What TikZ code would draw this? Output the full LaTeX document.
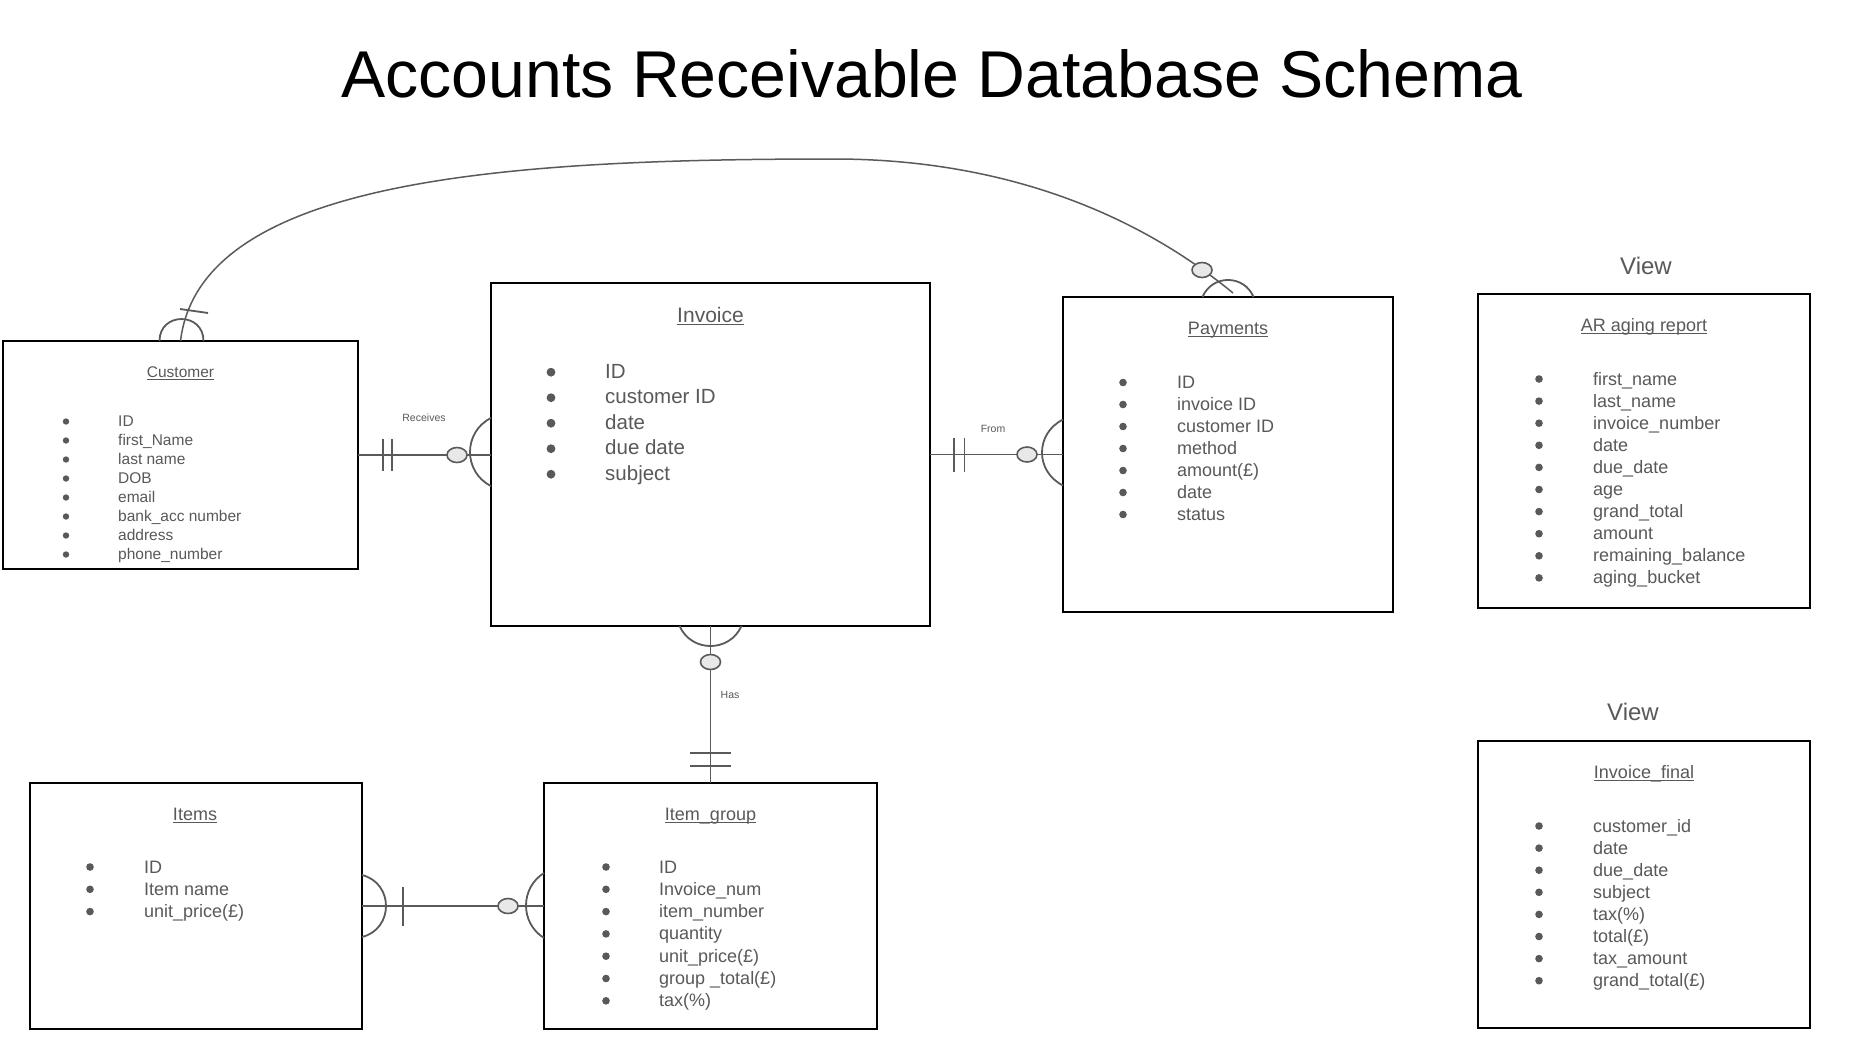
\documentclass[tikz,border=0pt]{standalone}
\usepackage{fontspec}
\setmainfont{Liberation Sans}
\usetikzlibrary{calc,shapes.geometric}
\definecolor{txt}{HTML}{595959}
\definecolor{ln}{HTML}{5A5A5A}
\definecolor{ofill}{HTML}{E8E8E8}
\newcommand\ulx[1]{\setbox0\hbox{#1}\rlap{\rule[-2.8pt]{\wd0}{1.1pt}}\box0}
% #1 prefix, #2 bullet x, #3 first baseline, #4 spacing, #5 font size,
% #6 bullet radius, #7 bullet raise, #8 text offset, #9 list
\newcommand\fieldlist[9]{%
  \foreach \fld [count=\i from 0] in {#9} {
    \fill[txt] (#2, #3+\i*#4-#7) circle[radius=#6pt];
    \node[anchor=base west, inner sep=0pt, text=txt, font=\fontsize{#5}{#5}\selectfont] (#1\i) at (#2+#8, #3+\i*#4) {\fld};
  }%
}
\begin{document}
\begin{tikzpicture}[x=1pt,y=-1pt,
  tbl/.style={draw=black, line width=2.4pt, rectangle, inner sep=0pt, outer sep=0pt, fill=white},
  conn/.style={draw=ln, line width=1.8pt},
  crow/.style={draw=ln, line width=1.8pt},
  opt/.style={ellipse, draw=ln, line width=1.6pt, fill=ofill, minimum width=20pt, minimum height=15pt, inner sep=0pt},
  lbl/.style={font=\fontsize{10.5}{12}\selectfont, text=txt, inner sep=0pt},
  ttl/.style={anchor=base, inner sep=0pt, text=txt},
]
\useasboundingbox[fill=white] (0,0) rectangle (1869,1047);

% title
\node[anchor=base, inner sep=0pt, font=\fontsize{66.2}{80}\selectfont] (title) at (932,97) {Accounts Receivable Database Schema};

% boxes
\node[tbl, minimum width=355pt, minimum height=228pt] (cust) at (180.5,455) {};
\node[tbl, minimum width=439pt, minimum height=343pt] (inv) at (710.5,454.5) {};
\node[tbl, minimum width=330pt, minimum height=315pt] (pay) at (1228,454.5) {};
\node[tbl, minimum width=332pt, minimum height=314pt] (ar) at (1644,451) {};
\node[tbl, minimum width=332pt, minimum height=287pt] (invf) at (1644,884.5) {};
\node[tbl, minimum width=332pt, minimum height=246pt] (items) at (196,906) {};
\node[tbl, minimum width=333pt, minimum height=246pt] (igrp) at (710.5,906) {};

% view labels
\node[anchor=base, inner sep=0pt, text=txt, font=\fontsize{24}{28}\selectfont] (v1) at (1646,274) {View};
\node[anchor=base, inner sep=0pt, text=txt, font=\fontsize{24}{28}\selectfont] (v2) at (1633,720) {View};

% box titles
\node[ttl, font=\fontsize{15.5}{18}\selectfont] (custT) at (180.5,377) {\ulx{Customer}};
\node[ttl, font=\fontsize{21}{24}\selectfont] (invT) at (710.5,322) {\ulx{Invoice}};
\node[ttl, font=\fontsize{18}{22}\selectfont] (payT) at (1228,334) {\ulx{Payments}};
\node[ttl, font=\fontsize{18}{22}\selectfont] (arT) at (1644,331) {\ulx{AR aging report}};
\node[ttl, font=\fontsize{18}{22}\selectfont] (invfT) at (1644,778) {\ulx{Invoice\_final}};
\node[ttl, font=\fontsize{18}{22}\selectfont] (itemsT) at (195,820) {\ulx{Items}};
\node[ttl, font=\fontsize{18}{22}\selectfont] (igrpT) at (710.5,820) {\ulx{Item\_group}};

% fields
\fieldlist{cf}{66}{426}{19}{15.5}{3.2}{4.5}{52}{ID,first\_Name,last name,DOB,email,bank\_acc number,address,phone\_number}
\fieldlist{if}{551}{378}{25.5}{20.5}{4.4}{5.8}{54}{ID,customer ID,date,due date,subject}
\fieldlist{pf}{1123}{388}{22}{18}{3.8}{5.5}{54}{ID,invoice ID,customer ID,method,amount(£),date,status}
\fieldlist{af}{1539}{385}{22.1}{18}{3.8}{6}{54}{first\_name,last\_name,invoice\_number,date,due\_date,age,grand\_total,amount,remaining\_balance,aging\_bucket}
\fieldlist{ff}{1539}{832}{22.1}{18}{3.8}{6}{54}{customer\_id,date,due\_date,subject,tax(\%),total(£),tax\_amount,grand\_total(£)}
\fieldlist{tf}{90}{873}{22.3}{18}{3.8}{6}{54}{ID,Item name,unit\_price(£)}
\fieldlist{gf}{606}{873}{22.3}{18}{3.8}{6}{53}{ID,Invoice\_num,item\_number,quantity,unit\_price(£),group \_total(£),tax(\%)}

% Customer -- Invoice (Receives)
\coordinate (ciE) at (inv.west |- cust.east);
\draw[conn] (cust.east) -- (ciE);
\draw[conn] ($(cust.east)+(25,-16)$) -- ($(cust.east)+(25,16)$);
\draw[conn] ($(cust.east)+(34,-16)$) -- ($(cust.east)+(34,16)$);
\draw[crow] ($(ciE)+(0,-37)$) .. controls +(-28,14) and +(-28,-14) .. ($(ciE)+(0,31)$);
\node[opt] (o1) at ($(ciE)+(-34,0)$) {};
\node[lbl] (l1) at (424,418) {Receives};

% Invoice -- Payments (From)
\coordinate (ipE) at (pay.west |- inv.east);
\draw[conn] (inv.east) -- (ipE);
\draw[conn] ($(inv.east)+(24,-17)$) -- ($(inv.east)+(24,17)$);
\draw[conn] ($(inv.east)+(34.5,-17)$) -- ($(inv.east)+(34.5,17)$);
\draw[crow] ($(ipE)+(0,-35)$) .. controls +(-28,14) and +(-28,-14) .. ($(ipE)+(0,31)$);
\node[opt] (o2) at ($(ipE)+(-36,0)$) {};
\node[lbl] (l2) at (993,429) {From};

% Invoice -- Item_group (Has)
\draw[conn] (inv.south) -- (igrp.north);
\draw[crow] ($(inv.south)+(-31,0)$) .. controls +(12.1,26.7) and +(-12.1,26.7) .. ($(inv.south)+(31,0)$);
\node[opt] (o3) at ($(inv.south)+(0,36)$) {};
\node[lbl] (l3) at (730,695) {Has};
\draw[conn] ($(igrp.north)+(-20.5,-30)$) -- ($(igrp.north)+(20.5,-30)$);
\draw[conn] ($(igrp.north)+(-20.5,-17)$) -- ($(igrp.north)+(20.5,-17)$);

% Items -- Item_group
\draw[conn] (items.east) -- (igrp.west);
\draw[crow] ($(items.east)+(0,-31)$) .. controls +(32,8) and +(32,-8) .. ($(items.east)+(0,31)$);
\draw[conn] ($(items.east)+(41,-19.5)$) -- ($(items.east)+(41,19.5)$);
\node[opt] (o4) at ($(igrp.west)+(-36,0)$) {};
\draw[crow] ($(igrp.west)+(0,-33)$) .. controls +(-24,15) and +(-24,-15) .. ($(igrp.west)+(0,32)$);

% Customer -- Payments (curve)
\coordinate (cpe) at ($(pay.north)+(5,-4)$);
\draw[conn, line width=1.5pt] (cust.north) .. controls (200,180) and (500,159) .. (834,159) .. controls (980,159) and (1120,200) .. (cpe);
\draw[conn] ($(cust.north)+(-0.5,-32)$) -- ($(cust.north)+(27.5,-28)$);
\draw[crow] ($(cust.north)+(-21,0)$) .. controls +(0,-29.3) and +(0,-29.3) .. ($(cust.north)+(23,0)$);
\node[opt] (o5) at ($(pay.north)+(-26,-27)$) {};
\draw[crow] ($(pay.north)+(-25.5,0)$) .. controls +(9.4,-22.7) and +(-9.4,-22.7) .. ($(pay.north)+(25.5,0)$);
\end{tikzpicture}
\end{document}
